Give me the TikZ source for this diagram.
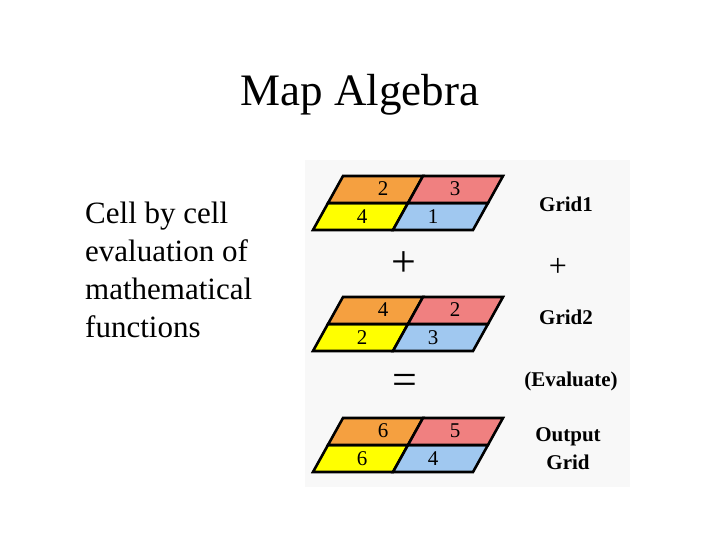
\documentclass[tikz,border=0pt]{standalone}
\usepackage{fontspec}
\setmainfont{Liberation Serif}
\definecolor{cell_orange}{RGB}{245, 160, 64}
\definecolor{cell_pink}{RGB}{240, 128, 128}
\definecolor{cell_yellow}{RGB}{255, 255, 0}
\definecolor{cell_blue}{RGB}{160, 200, 240}
\definecolor{panel}{RGB}{248, 248, 248}
\tikzstyle{cell}=[draw=black,line width=2.6pt,line join=miter]
\tikzstyle{num}=[font=\fontsize{21}{21}\selectfont,inner sep=0pt]
\tikzstyle{lbl}=[font=\bfseries\fontsize{21}{28}\selectfont,align=center]
% one 2x2 grid: bottom-left corner, then yellow, blue, orange, pink values
\newcommand{\mapgrid}[6]{
  \begin{scope}[shift={(#1)}]
    \filldraw [style=cell,fill=cell_yellow] (0,0) -- (80,0) -- (95,27) -- (15,27) -- cycle;
    \filldraw [style=cell,fill=cell_blue] (80,0) -- (160,0) -- (175,27) -- (95,27) -- cycle;
    \filldraw [style=cell,fill=cell_orange] (15,27) -- (95,27) -- (110,54) -- (30,54) -- cycle;
    \filldraw [style=cell,fill=cell_pink] (95,27) -- (175,27) -- (190,54) -- (110,54) -- cycle;
    \node [style=num] (#2y) at (49,13) {#3};
    \node [style=num] (#2b) at (120,13) {#4};
    \node [style=num] (#2o) at (70,41) {#5};
    \node [style=num] (#2p) at (142,41) {#6};
  \end{scope}
}
\begin{document}
\begin{tikzpicture}[x=1pt,y=1pt]
    \useasboundingbox [fill=white] (0,0) rectangle (720,540);
    \fill [panel] (305,53) rectangle (630,380);
    \node [font=\fontsize{45}{45}\selectfont] (title) at (360,445) {Map Algebra};
    \node [anchor=north west,align=left,inner sep=0pt,
      font=\fontsize{31}{38}\selectfont] (desc) at (85,338)
      {Cell by cell\\evaluation of\\mathematical\\functions};
    \mapgrid{313,310}{ga}{4}{1}{2}{3}
    \mapgrid{313,189}{gb}{2}{3}{4}{2}
    \mapgrid{313,68}{gc}{6}{4}{6}{5}
    \node [font=\fontsize{44}{44}\selectfont] (plus) at (404,276) {+};
    \node [font=\fontsize{44}{44}\selectfont] (eq) at (405,156) {=};
    \node [style=lbl] (l1) at (566,336) {Grid1};
    \node [font=\fontsize{32}{32}\selectfont] (l2) at (558,273) {+};
    \node [style=lbl] (l3) at (566,223) {Grid2};
    \node [style=lbl] (l4) at (571,159) {(Evaluate)};
    \node [style=lbl] (l5) at (568,91) {Output\\Grid};
\end{tikzpicture}
\end{document}
